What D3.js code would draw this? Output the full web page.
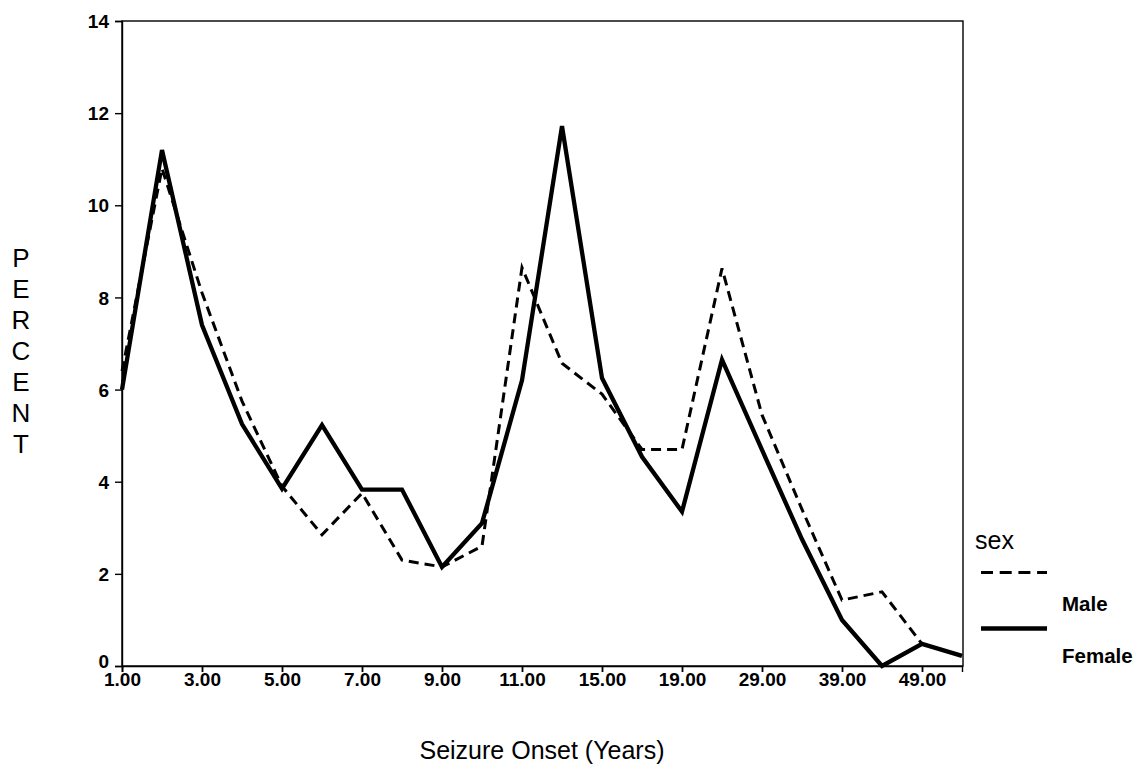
<!DOCTYPE html>
<html>
<head>
<meta charset="utf-8">
<script src="https://cdn.jsdelivr.net/npm/d3@7/dist/d3.min.js"></script>
<style>
  html, body { margin: 0; padding: 0; background: #fff; }
  svg { display: block; }
  text { font-family: "Liberation Sans", Arial, sans-serif; fill: #000; }
</style>
</head>
<body>
<svg id="chart" width="1137" height="768"></svg>
<script>
// Age-of-onset categories (years); only every other one is labelled
const categories = [1, 2, 3, 4, 5, 6, 7, 8, 9, 10, 11, 13, 15, 17, 19, 24, 29, 34, 39, 44, 49, 54];
const tickLabels = [1, 3, 5, 7, 9, 11, 15, 19, 29, 39, 49];
const yTicks = [0, 2, 4, 6, 8, 10, 12, 14];

const maleValues   = [6.4, 10.8, 8.1, 5.75, 3.9, 2.85, 3.75, 2.3, 2.15, 2.6, 8.65, 6.57, 5.9, 4.7, 4.7, 8.63, 5.45, 3.4, 1.43, 1.61, 0.48, 0.22];
const femaleValues = [6.0, 11.2, 7.4, 5.25, 3.85, 5.23, 3.83, 3.83, 2.15, 3.1, 6.2, 11.72, 6.25, 4.54, 3.35, 6.65, 4.69, 2.75, 1.0, 0.0, 0.48, 0.22];

const seriesNames = ["Male", "Female"];

const svg = d3.select("#chart");
const pLeft = 122, pRight = 963, pTop = 21, pBottom = 666;

const x = d3.scalePoint().domain(categories).range([pLeft, pRight - 1]);
const y = d3.scaleLinear().domain([0, 14]).range([pBottom, pTop]);

// frame
svg.append("rect")
  .attr("x", pLeft).attr("y", pTop)
  .attr("width", pRight - pLeft).attr("height", pBottom - pTop)
  .attr("fill", "none").attr("stroke", "#000").attr("stroke-width", 1.4);

// y axis
const yAxis = svg.append("g").attr("transform", `translate(${pLeft},0)`)
  .call(d3.axisLeft(y).tickValues(yTicks).tickSize(7).tickPadding(6).tickFormat(d3.format("d")));
yAxis.select(".domain").attr("stroke-width", 1.4);
yAxis.selectAll(".tick line").attr("stroke-width", 1.4);
yAxis.selectAll("text").attr("font-size", 19).attr("font-weight", "bold")
  .attr("font-family", "Liberation Sans, Arial, sans-serif").attr("dy", "0.35em");
yAxis.selectAll(".tick").filter(d => d === 0).select("text").attr("y", -5);

// x axis
const xAxis = svg.append("g").attr("transform", `translate(0,${pBottom})`)
  .call(d3.axisBottom(x).tickValues(tickLabels).tickSize(6).tickPadding(1).tickFormat(d => d.toFixed(2)));
xAxis.select(".domain").attr("stroke-width", 1.4);
xAxis.selectAll(".tick line").attr("stroke-width", 1.8);
xAxis.selectAll("text").attr("font-size", 19).attr("font-weight", "bold")
  .attr("font-family", "Liberation Sans, Arial, sans-serif");

// lines
const line = d3.line().x((d, i) => x(categories[i])).y(d => y(d));

svg.append("path").datum(femaleValues)
  .attr("d", line).attr("fill", "none").attr("stroke", "#000")
  .attr("stroke-width", 4.3).attr("stroke-linejoin", "miter");

svg.append("path").datum(maleValues)
  .attr("d", line).attr("fill", "none").attr("stroke", "#000")
  .attr("stroke-width", 3).attr("stroke-dasharray", "10,6").attr("stroke-linejoin", "miter");

// axis titles
const pt = svg.append("text").attr("x", 21).attr("font-size", 26)
  .attr("text-anchor", "middle");
"PERCENT".split("").forEach((c, i) => {
  pt.append("tspan").attr("x", 21).attr("y", 267 + i * 31).text(c);
});

svg.append("text").attr("x", 542).attr("y", 759)
  .attr("text-anchor", "middle").attr("font-size", 25)
  .text("Seizure Onset (Years)");

// legend
svg.append("text").attr("x", 975).attr("y", 549).attr("font-size", 25).text("sex");
svg.append("line").attr("x1", 981).attr("x2", 1047).attr("y1", 572.5).attr("y2", 572.5)
  .attr("stroke", "#000").attr("stroke-width", 2.8).attr("stroke-dasharray", "12,6.7");
svg.append("text").attr("x", 1062).attr("y", 611).attr("font-size", 20.5).attr("font-weight", "bold").text(seriesNames[0]);
svg.append("line").attr("x1", 981).attr("x2", 1047).attr("y1", 628.5).attr("y2", 628.5)
  .attr("stroke", "#000").attr("stroke-width", 4.3);
svg.append("text").attr("x", 1062).attr("y", 663).attr("font-size", 20.5).attr("font-weight", "bold").text(seriesNames[1]);
</script>
</body>
</html>
